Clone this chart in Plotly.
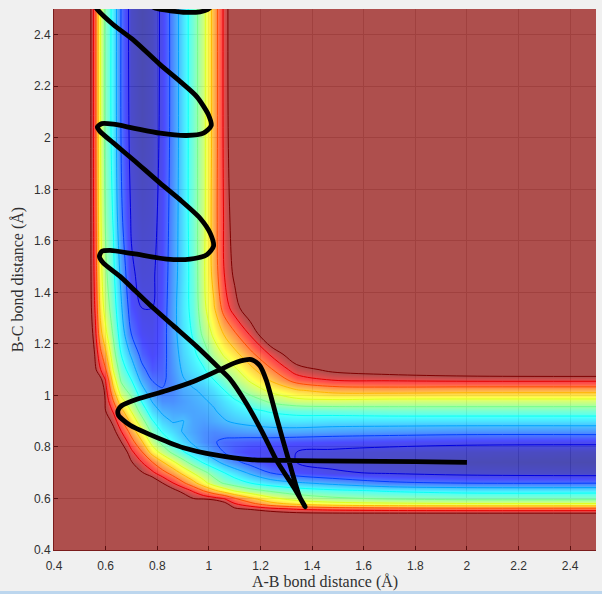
import numpy as np
import plotly.graph_objects as go

# grid of bond distances (same for A-B and B-C)
grid = [0.40, 0.50, 0.54, 0.56, 0.58, 0.60, 0.63, 0.66, 0.70, 0.74, 0.78, 0.82, 0.86,
        0.90, 0.94, 0.98, 1.02, 1.06, 1.10, 1.16, 1.24, 1.34, 1.48, 1.70, 2.00, 2.50]

# energy, 0 = valley floor, 100 = top of the colour range
# each row starts on the diagonal, the surface is symmetric in A-B / B-C
energy_rows = [
    [400] * 26,
    [400, 400, 400, 400, 400, 400, 400, 380, 350, 320, 300, 280, 260, 240, 225, 215, 210, 205, 200, 200, 200, 200, 200, 200, 200],
    [400, 400, 400, 400, 380, 360, 330, 300, 280, 260, 240, 220, 200, 180, 165, 150, 135, 120, 108, 104, 103, 103, 103, 103],
    [400, 400, 390, 370, 350, 320, 290, 265, 240, 215, 190, 170, 150, 130, 115, 102, 97, 92, 88, 85, 83, 82, 82],
    [390, 370, 350, 330, 300, 270, 245, 220, 195, 172, 155, 135, 118, 104, 90, 82, 72, 66, 62, 60, 59, 59],
    [320, 290, 260, 225, 195, 170, 145, 125, 108, 100, 96, 93, 89, 80, 71, 61, 54, 50, 47, 45, 45],
    [250, 220, 190, 160, 135, 118, 104, 96, 88, 79, 71, 64, 58, 52, 47, 43, 40, 37, 35, 35],
    [190, 155, 130, 112, 100, 90, 81, 72, 62, 53, 47, 43, 38, 33, 29, 25, 19, 17, 17],
    [130, 101, 92, 83, 75, 66, 58, 51, 44, 38, 33, 26, 17, 12, 8, 6, 4, 3],
    [90, 80, 70, 61, 52, 44, 37, 31, 25, 20, 14, 9.5, 7, 5, 3, 1, 0],
    [65, 55, 46, 39, 32, 27, 21, 17, 13, 10, 8.5, 7, 5.5, 4, 3, 2],
    [45, 37, 31, 26, 21, 18, 15.5, 14.5, 13.5, 13, 12, 11, 10, 9, 9],
    [32, 27, 24, 21, 20, 21, 22, 23, 24, 24, 23, 22, 21, 21],
    [28, 24, 23, 25, 27, 29, 31, 33, 34, 33, 33, 33, 33],
    [24, 25, 27, 30, 33, 36, 39, 41, 42, 43, 43, 43],
    [27, 29, 33, 37, 43, 51, 56, 57, 56, 56, 56],
    [33, 38, 45, 53, 61, 68, 73, 74, 73, 73],
    [44, 52, 60, 70, 84, 90, 91, 92, 92],
    [57, 66, 78, 95, 103, 108, 113, 115],
    [76, 91, 110, 125, 140, 148, 150],
    [115, 135, 155, 175, 185, 190],
    [160, 180, 205, 222, 230],
    [210, 235, 258, 270],
    [265, 288, 300],
    [305, 320],
    [330],
]

# trajectory, starts at the right end of the valley
traj_ab = [2.00, 1.80, 1.544, 1.287, 1.159, 1.03, 0.901, 0.772, 0.695, 0.65, 0.648, 0.663, 0.721,
           0.837, 0.94, 1.043, 1.107, 1.165, 1.197, 1.223, 1.262, 1.313, 1.352, 1.373,
           1.332, 1.262, 1.21, 1.146, 1.081, 1.043, 0.953, 0.863, 0.773, 0.70, 0.656, 0.591, 0.576,
           0.585, 0.617, 0.707, 0.837, 0.927, 0.992, 1.018, 1.005, 0.966, 0.888, 0.811, 0.707,
           0.63, 0.578, 0.568, 0.585, 0.63, 0.707, 0.811, 0.914, 0.979, 1.009, 0.998, 0.953,
           0.888, 0.811, 0.707, 0.63, 0.569, 0.555, 0.60, 0.72, 0.794, 0.85, 0.914, 0.966, 0.994, 1.02]
traj_bc = [0.74, 0.743, 0.745, 0.748, 0.751, 0.768, 0.797, 0.848, 0.884, 0.923, 0.942, 0.961, 0.985,
           1.019, 1.054, 1.10, 1.129, 1.139, 1.116, 1.058, 0.916, 0.735, 0.606, 0.568,
           0.639, 0.748, 0.852, 0.968, 1.065, 1.103, 1.19, 1.27, 1.35, 1.42, 1.462, 1.514, 1.54,
           1.559, 1.563, 1.55, 1.529, 1.529, 1.546, 1.579, 1.63, 1.688, 1.76, 1.824, 1.915,
           1.98, 2.025, 2.042, 2.055, 2.053, 2.038, 2.018, 2.009, 2.018, 2.047, 2.09, 2.16,
           2.219, 2.284, 2.38, 2.439, 2.497, 2.52, 2.56, 2.54, 2.503, 2.493, 2.487, 2.489, 2.497, 2.52]

tick_vals = [0.4, 0.6, 0.8, 1.0, 1.2, 1.4, 1.6, 1.8, 2.0, 2.2, 2.4]
tick_text = ["0.4", "0.6", "0.8", "1", "1.2", "1.4", "1.6", "1.8", "2", "2.2", "2.4"]

jet = [[0, "rgb(0,0,143)"], [0.11, "rgb(0,0,255)"], [0.37, "rgb(0,255,255)"],
       [0.62, "rgb(255,255,0)"], [0.87, "rgb(255,0,0)"], [1, "rgb(140,5,3)"]]
# plotly stretches the line colours between the first and last level
jet_lines = [[0, "rgb(0,0,225)"], [0.043, "rgb(0,0,255)"], [0.323, "rgb(0,255,255)"],
             [0.59, "rgb(255,255,0)"], [0.86, "rgb(255,0,0)"], [1, "rgb(128,0,0)"]]

# mirror the triangle to the full table
n = len(grid)
energy = np.zeros((n, n))
for i, row in enumerate(energy_rows):
    for k, val in enumerate(row):
        energy[i, i + k] = val
        energy[i + k, i] = val

fig = go.Figure()

# smooth see-through surface
fig.add_trace(go.Heatmap(x=grid, y=grid, z=energy, zmin=0, zmax=100, colorscale=jet,
                         zsmooth="best", opacity=0.7, showscale=False, hoverinfo="skip"))

# coloured level lines
fig.add_trace(go.Contour(x=grid, y=grid, z=energy, colorscale=jet_lines,
                         contours=dict(coloring="lines", start=7, end=100, size=10.33),
                         line=dict(width=1), showscale=False, hoverinfo="skip"))

fig.add_trace(go.Scatter(x=traj_ab, y=traj_bc, mode="lines",
                         line=dict(color="black", width=4.8, shape="spline", smoothing=0.7),
                         showlegend=False))

axis_style = dict(
    tickvals=tick_vals, ticktext=tick_text, ticks="inside", ticklen=4, tickcolor="#5a1010",
    tickfont=dict(family="Liberation Sans", size=12, color="#303030"),
    showgrid=True, gridcolor="#d0d0d0", gridwidth=1, zeroline=False,
    showline=True, linecolor="#7a1c1c", linewidth=1, range=[0.4, 2.5],
)

fig.update_layout(
    width=602, height=594,
    margin=dict(l=54, r=6, t=9, b=44),
    paper_bgcolor="#f0f0f0", plot_bgcolor="white",
    showlegend=False,
    xaxis=dict(title=dict(text="A-B bond distance (Å)", standoff=3,
                          font=dict(family="Liberation Serif", size=16, color="#303030")),
               ticklabelstandoff=5, **axis_style),
    yaxis=dict(title=dict(text="B-C bond distance (Å)", standoff=6,
                          font=dict(family="Liberation Serif", size=16, color="#303030")), **axis_style),
)

# window edge at the bottom of the screenshot
fig.add_shape(type="rect", xref="paper", yref="paper", x0=-0.1, x1=1.02, y0=-0.0813, y1=-0.076,
              fillcolor="#bcd6ee", line_width=0)

fig.write_html("out.html", config=dict(displayModeBar=False),
               post_script="document.body.style.margin='0';document.body.style.overflow='hidden';")
